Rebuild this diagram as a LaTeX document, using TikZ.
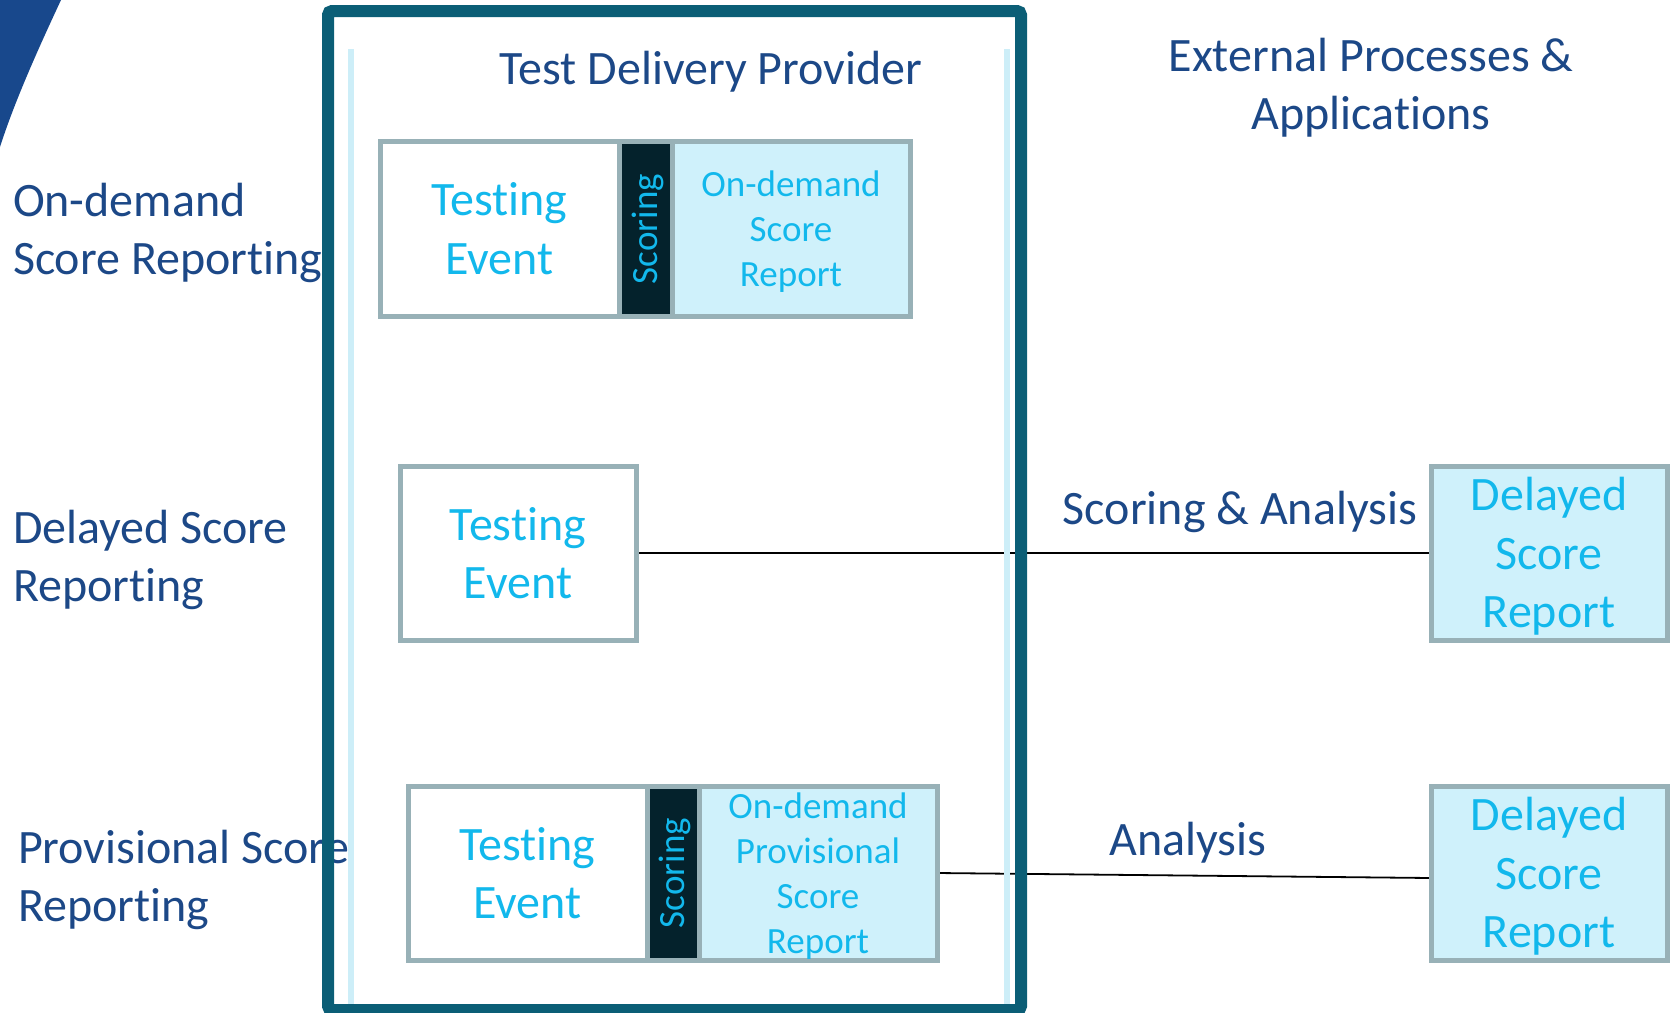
\documentclass[tikz,border=0pt]{standalone}
\usepackage{fontspec}
\setmainfont{Carlito}[Ligatures=NoCommon]
\usetikzlibrary{backgrounds}
\definecolor{dkblue}{RGB}{28,72,135}
\definecolor{swooshblue}{RGB}{24,72,140}
\definecolor{framecol}{RGB}{11,94,118}
\definecolor{lightline}{RGB}{205,238,248}
\definecolor{boxgray}{RGB}{152,177,183}
\definecolor{replight}{RGB}{207,241,251}
\definecolor{evcyan}{RGB}{18,184,236}
\definecolor{stripdark}{RGB}{4,34,44}
\newcommand{\Ta}{\rule{0pt}{44.5pt}}
\newcommand{\Tb}{\rule[-12pt]{0pt}{12pt}}
\newcommand{\Sa}{\rule{0pt}{32.5pt}}
\newcommand{\Sb}{\rule[-6pt]{0pt}{6pt}}
\begin{document}
\begin{tikzpicture}[x=1pt,y=-1pt,
  lbl/.style={text=dkblue, font=\fontsize{48}{58.5}\selectfont, inner sep=0pt, outer sep=0pt},
  boxbase/.style={draw=boxgray, line width=5pt, inner sep=0pt, outer sep=0pt, minimum height=174pt, align=center},
  evbox/.style={boxbase, fill=white, text=evcyan, font=\fontsize{48}{58.5}\selectfont},
  stripbox/.style={boxbase, fill=stripdark},
  repbox/.style={boxbase, fill=replight, text=evcyan, font=\fontsize{37}{45}\selectfont},
  drbox/.style={boxbase, fill=replight, text=evcyan, font=\fontsize{48}{58.5}\selectfont, minimum width=236pt},
  scoretxt/.style={text=evcyan, font=\fontsize{37}{45}\selectfont, rotate=90, anchor=base, inner sep=0pt},
  conn/.style={draw=black, line width=1.8pt},
  framestyle/.style={draw=framecol, line width=12pt, rounded corners=4pt},
  sideline/.style={draw=lightline, line width=6pt}
]
\useasboundingbox (0,0) rectangle (1670,1012);
% swoosh
\fill[swooshblue] (-1,-1) -- (61,-1) -- (61,0) .. controls (40,45) and (15,100) .. (0,147) -- (-1,147) -- cycle;
% left labels
\node[lbl, anchor=north west, align=left] (l1) at (13,171.5) {\Ta On-demand\\Score Reporting};
\node[lbl, anchor=north west, align=left] (l2) at (13,498.5) {\Ta Delayed Score\\Reporting};
\node[lbl, anchor=north west, align=left] (l3) at (18,818.5) {\Ta Provisional Score\\Reporting};
% frame
\draw[framestyle] (328,11) rectangle (1021,1010);
\draw[sideline] (351,49) -- (351,1004);
\draw[sideline] (1007,49) -- (1007,1004);
% titles
\node[lbl, anchor=base] (tdp) at (711,84) {Test Delivery Provider};
\node[lbl, anchor=north, align=center] (ext) at (1371,26.5) {\Ta External Processes \&\\Applications};
% row 1
\node[evbox, minimum width=239pt, minimum height=175pt] (te1) at (499.5,228.5) {\Ta Testing\\Event\Tb};
\node[stripbox, minimum width=53pt, minimum height=175pt] (sc1) at (645.5,228.5) {};
\node[repbox, minimum width=238pt, minimum height=175pt] (rp1) at (791,228.5) {\Sa On-demand\\Score\\\smash{Report}\Sb};
\node[scoretxt] (sct1) at (657,229) {Scoring};
% row 2
\node[evbox, minimum width=236pt] (te2) at (518,553) {\Ta Testing\\Event\Tb};
\node[drbox] (dr1) at (1549,553) {\Ta Delayed\\Score\\Report\Tb};
% row 3
\node[evbox, minimum width=239pt] (te3) at (527.5,873) {\Ta Testing\\Event\Tb};
\node[stripbox, minimum width=52pt] (sc3) at (673,873) {};
\node[repbox, minimum width=238pt] (rp3) at (818,873) {\Sa On-demand\\Provisional\\Score\\\smash{Report}\Sb};
\node[scoretxt] (sct3) at (684,873) {Scoring};
\node[drbox] (dr2) at (1549,873) {\Ta Delayed\\Score\\Report\Tb};
% connector labels
\node[lbl, anchor=base] (sa) at (1240,524) {Scoring \& Analysis};
\node[lbl, anchor=base] (an) at (1188,855) {Analysis};
% connectors
\begin{scope}[on background layer]
\draw[conn] (te2.east) -- (dr1.west);
\draw[conn] (rp3.east) -- ([yshift=-5pt]dr2.west);
\end{scope}
\end{tikzpicture}
\end{document}
